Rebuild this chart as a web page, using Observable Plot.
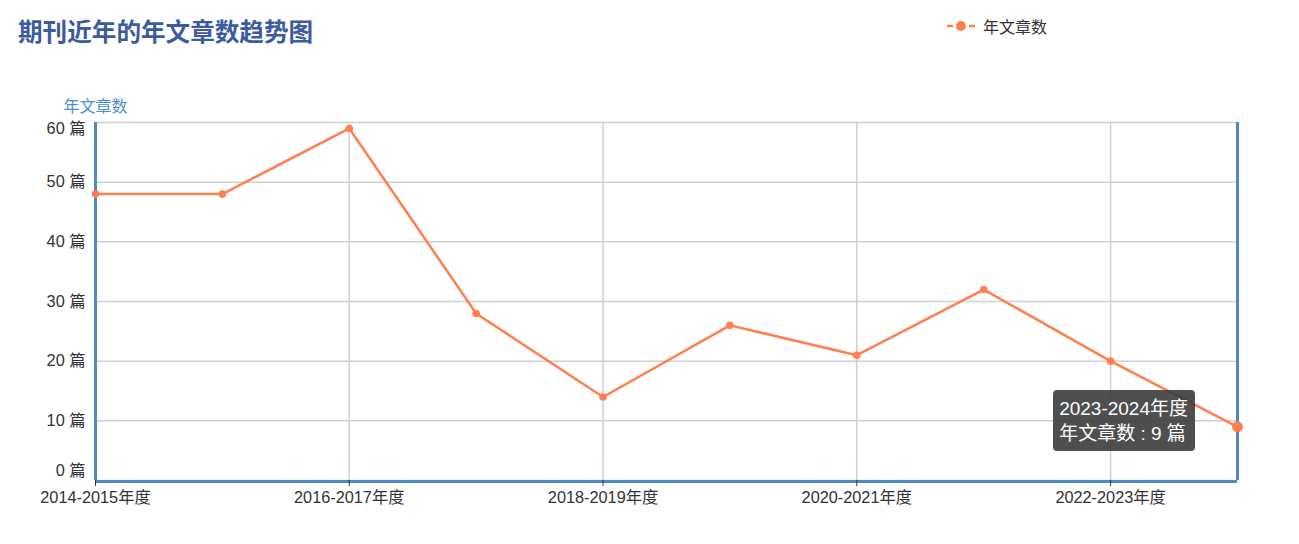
<!DOCTYPE html>
<html>
<head>
<meta charset="utf-8">
<script src="https://cdn.jsdelivr.net/npm/d3@7"></script>
<script src="https://cdn.jsdelivr.net/npm/@observablehq/plot@0.6"></script>
<style>
  html, body { margin: 0; padding: 0; background: #fff; }
  #wrap { position: relative; width: 1299px; height: 544px; font-family: "Liberation Sans", "Noto Sans CJK SC", sans-serif; }
  #title { position: absolute; left: 18px; top: 12px; font-size: 24.6px; font-weight: bold; color: #3b5b9e; white-space: nowrap; font-family: "Noto Sans CJK SC", sans-serif; }
  #legend { position: absolute; left: 946px; top: 14px; display: flex; align-items: center; font-size: 16px; color: #333; }
  #legend span { margin-left: 7px; font-family: "Liberation Sans", "Noto Sans CJK SC", sans-serif; }
  #tip { position: absolute; background: rgba(60,60,60,0.9); color: #fff; border-radius: 4px; padding: 6px 7px 5px 6px; font-size: 19px; line-height: 25px; white-space: nowrap; }
  #chart svg { position: absolute; left: 0; top: 0; }
</style>
</head>
<body>
<div id="wrap">
  <div id="chart"></div>
  <div id="title"></div>
  <div id="legend"></div>
  <div id="tip"></div>
</div>
<script>
const chartTitle = "期刊近年的年文章数趋势图";
const seriesName = "年文章数";
const unit = "篇";
const categories = ["2014-2015年度","2015-2016年度","2016-2017年度","2017-2018年度","2018-2019年度","2019-2020年度","2020-2021年度","2021-2022年度","2022-2023年度","2023-2024年度"];
const counts = [48, 48, 59, 28, 14, 26, 21, 32, 20, 9];
const yTicks = [0, 10, 20, 30, 40, 50, 60];
const xTickLabels = categories.filter((d, i) => i % 2 === 0);

const lineColor = "#ff7f50";
const axisBlue = "#4a8bc2";
const gridGray = "#d0d0d0";

const data = categories.map((c, i) => ({cat: c, n: counts[i]}));
const last = data[data.length - 1];

const chart = Plot.plot({
  width: 1299,
  height: 544,
  marginLeft: 95,
  marginRight: 62,
  marginTop: 122,
  marginBottom: 64,
  x: {type: "point", domain: categories, padding: 0, round: false, axis: null},
  y: {domain: [0, 60], axis: null},
  style: {fontFamily: "'Liberation Sans', 'Noto Sans CJK SC', sans-serif", fontSize: "16px", color: "#333", background: "transparent"},
  marks: [
    Plot.ruleY(yTicks, {stroke: gridGray, strokeWidth: 1.5}),
    Plot.ruleX(xTickLabels, {x: d => d, stroke: gridGray, strokeWidth: 1.5}),
    Plot.ruleX([categories[0], categories[categories.length - 1]], {x: d => d, stroke: axisBlue, strokeWidth: 3}),
    Plot.ruleY([0], {stroke: axisBlue, strokeWidth: 3, dy: 1}),
    Plot.axisX({ticks: xTickLabels, tickSize: 6, tickPadding: 5, fontSize: 16.3, color: "#333", label: null}),
    Plot.text(yTicks.filter(d => d > 0 && d < 60), {y: d => d, text: d => `${d} ${unit}`, frameAnchor: "left", textAnchor: "end", lineAnchor: "middle", dx: -10, fill: "#333", fontSize: 16.3}),
    Plot.text([60], {y: d => d, text: d => `${d} ${unit}`, frameAnchor: "left", textAnchor: "end", lineAnchor: "middle", dx: -10, dy: 6, fill: "#333", fontSize: 16.3}),
    Plot.text([0], {y: d => d, text: d => `${d} ${unit}`, frameAnchor: "left", textAnchor: "end", lineAnchor: "middle", dx: -10, dy: -10, fill: "#333", fontSize: 16.3}),
    Plot.text([seriesName], {frameAnchor: "top-left", lineAnchor: "middle", dy: -16, textAnchor: "middle", fill: "#4a90c8", fontSize: 16}),
    Plot.line(data, {x: "cat", y: "n", stroke: lineColor, strokeWidth: 2.5}),
    Plot.dot(data.slice(0, -1), {x: "cat", y: "n", fill: lineColor, r: 3.8}),
    Plot.dot([last], {x: "cat", y: "n", fill: lineColor, r: 5.5})
  ]
});
document.getElementById("chart").appendChild(chart);

document.getElementById("title").textContent = chartTitle;
document.getElementById("legend").innerHTML =
  `<svg width="30" height="14"><line x1="1" y1="7" x2="29" y2="7" stroke="${lineColor}" stroke-width="2.5" stroke-dasharray="6,4,8,4,6"/><circle cx="15" cy="7" r="5" fill="${lineColor}"/></svg><span>${seriesName}</span>`;

// tooltip placed from the chart's own scales
const px = chart.scale("x").apply(last.cat);
const py = chart.scale("y").apply(last.n);
const tip = document.getElementById("tip");
tip.innerHTML = `${last.cat}<br>${seriesName} : ${last.n} ${unit}`;
tip.style.right = (1299 - (px - 42)) + "px";
tip.style.top = (py - 36) + "px";
</script>
</body>
</html>
